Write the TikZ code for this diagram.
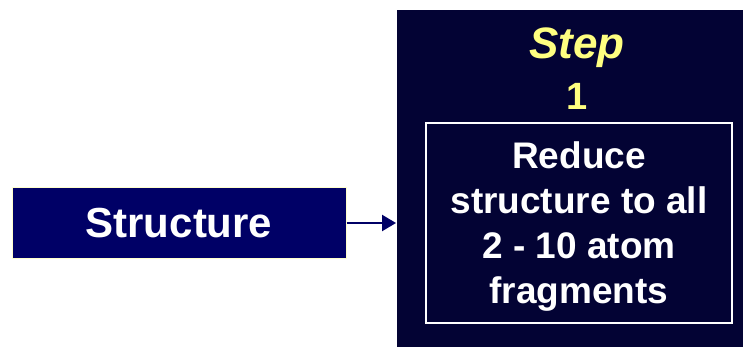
\documentclass[tikz,border=0pt]{standalone}
\usepackage{fontspec}
\setmainfont{Liberation Sans}
\usetikzlibrary{arrows.meta}
\definecolor{navy}{RGB}{0,0,102}
\definecolor{darknavy}{RGB}{3,3,52}
\definecolor{cream}{RGB}{255,255,204}
\definecolor{stepyellow}{RGB}{255,255,128}
\begin{document}
\begin{tikzpicture}[x=1pt,y=-1pt,
  inbox/.style={draw=cream, line width=1pt, fill=navy, text=white, font=\bfseries\fontsize{42}{46}\selectfont},
  conn/.style={draw=navy, line width=2.5pt, -{Triangle[length=14pt,width=16pt]}}]
\useasboundingbox (0,0) rectangle (743,347);
\fill[white] (0,0) rectangle (743,347);
\node[inbox, minimum width=334pt, minimum height=70pt, inner sep=0pt] (structure) at (179,223) {Structure};
\fill[darknavy] (397,10) rectangle (743,347);
\coordinate (panel) at (396,223);
\node[text=stepyellow, font=\bfseries\itshape\fontsize{44}{48}\selectfont] (step) at (577,48) {Step};
\node[text=stepyellow, font=\bfseries\fontsize{38}{40}\selectfont] (num) at (577,96) {1};
\node[draw=white, line width=1.2pt, minimum width=306pt, minimum height=200pt, inner sep=0pt] (task) at (579,223) {};
\node[text=white, align=center, font=\bfseries\fontsize{37}{45}\selectfont] (tasktext) at (579,227) {Reduce\\structure to all\\2 - 10 atom\\fragments};
\draw[conn] (structure.east) -- (panel);
\end{tikzpicture}
\end{document}
